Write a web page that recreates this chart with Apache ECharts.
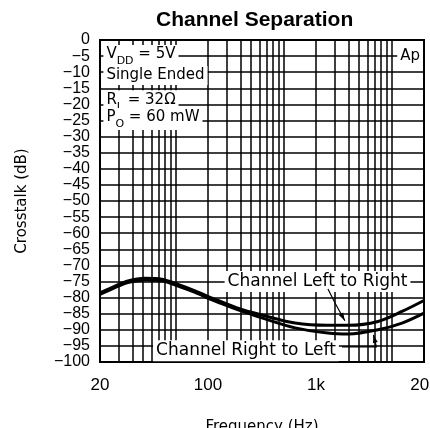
<!DOCTYPE html>
<html>
<head>
<meta charset="utf-8">
<script src="https://cdn.jsdelivr.net/npm/echarts@6/dist/echarts.min.js"></script>
<style>
html,body{margin:0;padding:0;background:#fff}
#chart{width:430px;height:428px}
</style>
</head>
<body>
<div id="chart"></div>
<script>
// values: frequency (Hz) and crosstalk (dB)
var freqs = [20, 27.5, 36.3, 52, 74.8, 105.6, 151.8, 218.5, 306, 438, 631, 1279, 2582, 4000, 7500, 12510, 20000]
var leftToRight = [-78.5, -76.4, -74.8, -74.0, -74.3, -75.9, -77.9, -80.2, -82.1, -84.0, -85.4, -87.9, -88.6, -88.6, -87.4, -84.3, -80.9]
var rightToLeft = [-79.0, -76.9, -75.3, -74.5, -74.8, -76.4, -78.4, -80.7, -82.6, -84.5, -86.3, -89.4, -91.0, -91.3, -90.0, -87.9, -84.8]
var gridFreqs = [30, 40, 50, 60, 70, 80, 90, 100, 200, 300, 400, 500, 600, 700, 800, 900, 1000, 2000, 3000, 4000, 5000, 6000, 7000, 8000, 9000, 10000]
var xTickLabels = ['20', '100', '1k', '20k']

var chart = echarts.init(document.getElementById('chart'))

function pairs(ys) {
  return freqs.map(function (f, i) { return [f, ys[i]] })
}

var tickFont = 'Liberation Sans'
var noteFont = 'DejaVu Sans'

chart.setOption({
  animation: false,
  title: {
    text: 'Channel Separation',
    left: 151, top: 5,
    textStyle: { fontFamily: tickFont, fontSize: 21, fontWeight: 'bold', color: '#000' }
  },
  grid: {
    left: 100, right: 6, top: 40, bottom: 66,
    show: true, borderColor: '#000', borderWidth: 2,
    outerBoundsMode: 'none'
  },
  xAxis: [{
    type: 'log', min: 20, max: 20000, logBase: 10,
    name: 'Frequency (Hz)', nameLocation: 'middle', nameGap: 58,
    nameTextStyle: { fontFamily: noteFont, fontSize: 15, color: '#000' },
    axisLine: { show: false }, axisTick: { show: false },
    axisLabel: { show: false }, splitLine: { show: false }
  }, {
    type: 'value', min: 0, max: 3, interval: 1, position: 'bottom',
    axisLine: { show: false }, axisTick: { show: false }, splitLine: { show: false },
    axisLabel: {
      margin: 15, color: '#000', fontFamily: tickFont, fontSize: 17,
      showMinLabel: true, showMaxLabel: true,
      formatter: function (v) { return xTickLabels[v] }
    }
  }],
  yAxis: {
    type: 'value', min: -100, max: 0, interval: 5,
    name: 'Crosstalk (dB)', nameLocation: 'middle', nameGap: 70,
    nameTextStyle: { fontFamily: noteFont, fontSize: 15, color: '#000' },
    axisLine: { show: false }, axisTick: { show: false },
    axisLabel: {
      margin: 10, color: '#000', fontFamily: tickFont, fontSize: 16,
      showMinLabel: true, showMaxLabel: true, hideOverlap: false,
      formatter: function (v) { return v < 0 ? '\u2212' + (-v) : String(v) }
    },
    splitLine: { lineStyle: { color: '#000', width: 1.5 } }
  },
  series: [{
    type: 'line', data: [], z: 1, silent: true,
    markLine: {
      silent: true, symbol: ['none', 'none'], animation: false,
      label: { show: false },
      lineStyle: { color: '#000', width: 1.5, type: 'solid' },
      data: gridFreqs.map(function (f) { return { xAxis: f } })
    }
  }, {
    name: 'Channel Left to Right', type: 'line', smooth: 0.3, showSymbol: false, z: 5,
    lineStyle: { color: '#000', width: 3 },
    data: pairs(leftToRight)
  }, {
    name: 'Channel Right to Left', type: 'line', smooth: 0.3, showSymbol: false, z: 5,
    lineStyle: { color: '#000', width: 3 },
    data: pairs(rightToLeft)
  }]
})

function px(f, db) {
  return chart.convertToPixel({ xAxisIndex: 0, yAxisIndex: 0 }, [f, db])
}

var rich = {
  n: { fontFamily: noteFont, fontSize: 15, lineHeight: 18, verticalAlign: 'top', fill: '#000' },
  s: { fontFamily: noteFont, fontSize: 11, lineHeight: 11, padding: [9, 0, 0, 0], verticalAlign: 'top', fill: '#000' }
}

function note(text, f, db, extra) {
  var p = px(f, db)
  var st = {
    text: text, x: p[0], y: p[1], align: 'left', verticalAlign: 'middle',
    fontFamily: noteFont, fontSize: 15, fill: '#000',
    backgroundColor: '#fff', padding: [2, 3], rich: rich
  }
  for (var k in extra) st[k] = extra[k]
  return { type: 'text', z: 50, silent: true, style: st }
}

function arrow(points) {
  var pts = points.map(function (d) { return px(d[0], d[1]) })
  var a = pts[pts.length - 1], b = pts[pts.length - 2]
  var dx = a[0] - b[0], dy = a[1] - b[1], len = Math.sqrt(dx * dx + dy * dy)
  var ux = dx / len, uy = dy / len
  var head = [a, [a[0] - ux * 8 - uy * 2.5, a[1] - uy * 8 + ux * 2.5], [a[0] - ux * 8 + uy * 2.5, a[1] - uy * 8 - ux * 2.5]]
  return [
    { type: 'polyline', z: 60, silent: true, shape: { points: pts }, style: { stroke: '#000', lineWidth: 1.2, fill: null } },
    { type: 'polygon', z: 60, silent: true, shape: { points: head }, style: { fill: '#000' } }
  ]
}

var graphics = [
  note('{n|V}{s|DD}{n| = 5V}', 21.5, -5),
  note('Single Ended', 21.5, -11),
  note('{n|R}{s|L}{n| = 32\u03a9}', 21.5, -19),
  note('{n|P}{s|O}{n| = 60 mW}', 21.5, -24.5),
  note('Ap', 11300, -5),
  note('Channel Left to Right', 285, -75, { fontSize: 17 }),
  note('Channel Right to Left', 62, -96.5, { fontSize: 17 })
].concat(
  arrow([[2580, -77.3], [3000, -81.7], [3700, -87.2]]),
  arrow([[3480, -95.3], [7250, -95.3], [6800, -91.6]])
)

chart.setOption({ graphic: graphics })
</script>
</body>
</html>
